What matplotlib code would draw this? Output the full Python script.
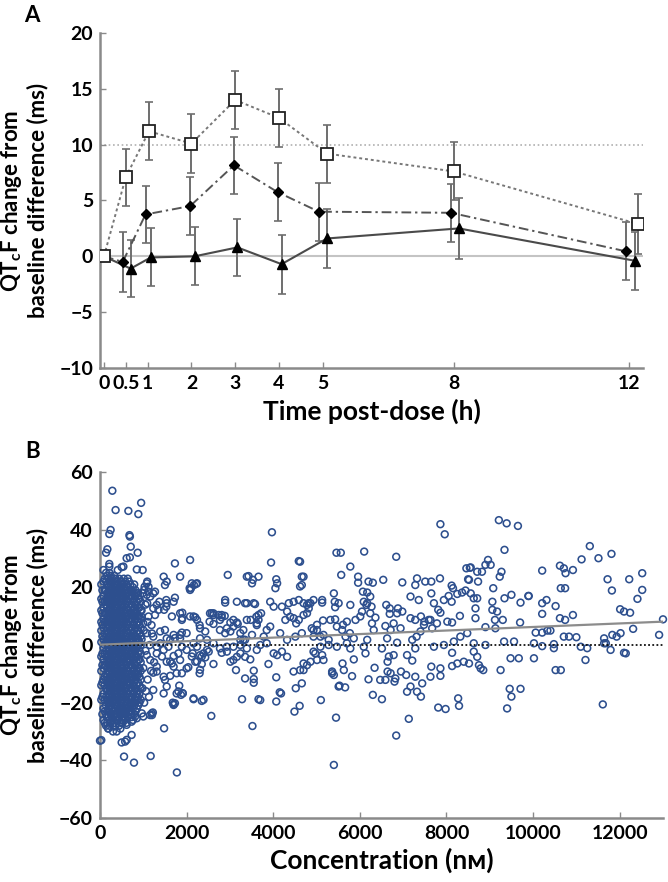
import matplotlib
matplotlib.use("Agg")
import matplotlib.pyplot as plt

plt.rcParams['font.family'] = ['Lato', 'DejaVu Sans']
plt.rcParams['font.weight'] = 'bold'
plt.rcParams['mathtext.fontset'] = 'custom'
plt.rcParams['mathtext.rm'] = 'Lato:bold'
plt.rcParams['mathtext.it'] = 'Lato:bold'
plt.rcParams['mathtext.bf'] = 'Lato:bold'

# ---------------- Panel A data ----------------
times = [0, 0.5, 1, 2, 3, 4, 5, 8, 12]
time_ticks = [0, 0.5, 1, 2, 3, 4, 5, 8, 12]
time_ticklabels = ['0', '0.5', '1', '2', '3', '4', '5', '8', '12']
a_yticks = [-10, -5, 0, 5, 10, 15, 20]

sq_mean = [0, 7.1, 11.2, 10.1, 14.0, 12.4, 9.2, 7.6, 2.9]
sq_err = [0, 2.55, 2.6, 2.65, 2.6, 2.6, 2.6, 2.6, 2.7]
dia_mean = [0, -0.5, 3.75, 4.5, 8.15, 5.75, 4.0, 3.9, 0.45]
dia_err = [0, 2.65, 2.55, 2.6, 2.55, 2.6, 2.6, 2.6, 2.6]
tri_mean = [0, -1.1, -0.1, 0.0, 0.8, -0.7, 1.6, 2.5, -0.4]
tri_err = [0, 2.55, 2.6, 2.6, 2.55, 2.65, 2.65, 2.7, 2.6]

# ---------------- Panel B data ----------------
b_xticks = [0, 2000, 4000, 6000, 8000, 10000, 12000]
b_yticks = [-60, -40, -20, 0, 20, 40, 60]
reg_intercept = 0.1      # ms
reg_slope = 0.000615     # ms per nM

cluster_conc = [30, 80, 140, 190, 250, 300, 360, 410, 470, 520, 580, 640, 700, 760, 820, 880, 940]
cluster_vals = [
    [-33, -19, -14, -9, -4, 1, 5, 8, 12, 16, 21],
    [-26, -22, -17, -12, -8, -5, -1, 2, 6, 9, 13, 17, 22, 26],
    [-28, -24, -21, -18, -15, -12, -10, -7, -4, -2, 1, 3, 6, 8, 11, 14, 16, 19, 22, 25, 32],
    [-29, -25, -22, -20, -17, -14, -12, -9, -6, -4, -1, 1, 4, 7, 9, 12, 15, 17, 20, 23],
    [-27, -24, -21, -19, -16, -13, -11, -8, -5, -3, 0, 2, 5, 8, 10, 13, 16, 18, 21, 24],
    [-30, -26, -23, -20, -18, -15, -12, -10, -7, -4, -2, 1, 3, 6, 9, 11, 14, 17, 19, 22],
    [-28, -25, -22, -19, -17, -14, -11, -9, -6, -3, -1, 2, 4, 7, 10, 12, 15, 18, 20, 23],
    [-26, -23, -21, -18, -15, -13, -10, -8, -5, -2, 0, 3, 5, 8, 11, 13, 16, 19, 21, 26],
    [-29, -24, -22, -20, -17, -14, -12, -9, -6, -4, -1, 1, 4, 7, 9, 12, 15, 17, 20, 22],
    [-27, -25, -22, -19, -16, -13, -11, -8, -5, -3, 0, 2, 5, 8, 10, 13, 16, 18, 21],
    [-26, -23, -21, -18, -15, -12, -10, -7, -4, -2, 1, 3, 6, 9, 11, 14, 17, 19, 22],
    [-25, -22, -20, -17, -14, -12, -9, -6, -4, -1, 1, 4, 7, 10, 12, 15, 18, 20, 23],
    [-24, -21, -19, -16, -13, -11, -8, -5, -3, 0, 2, 5, 8, 11, 13, 16, 19, 21],
    [-26, -22, -20, -17, -14, -11, -9, -6, -3, -1, 2, 4, 7, 10, 12, 15, 18, 20],
    [-23, -20, -18, -15, -12, -10, -7, -4, -2, 1, 3, 6, 9, 11, 14, 17, 19],
    [-21, -18, -16, -13, -10, -8, -5, -3, 0, 2, 5, 8, 10, 13, 16, 18],
    [-19, -15, -12, -9, -6, -3, 0, 3, 6, 9, 12, 15],
]

cluster2_conc = [55, 110, 165, 220, 275, 330, 385, 440, 495, 550, 610, 670, 730, 790, 850, 910]
cluster2_vals = [
    [-24, -18, -13, -7, -3, 3, 7, 11, 15, 19],
    [-27, -23, -19, -14, -11, -7, -3, 0, 4, 8, 11, 15, 19, 23],
    [-27, -23, -19, -16, -13, -11, -8, -5, -3, 0, 2, 5, 7, 10, 13, 15, 18, 21, 24],
    [-28, -26, -23, -20, -18, -15, -13, -10, -7, -5, -2, 0, 3, 6, 8, 11, 14, 16, 19, 22, 25],
    [-25, -22, -20, -17, -14, -12, -9, -6, -4, -1, 1, 4, 7, 9, 12, 15, 17, 20, 23],
    [-27, -24, -21, -19, -16, -13, -11, -8, -5, -3, 0, 2, 5, 8, 10, 13, 16, 18, 21, 24],
    [-26, -24, -20, -18, -15, -12, -10, -7, -4, -2, 1, 3, 6, 9, 11, 14, 17, 19, 22],
    [-28, -25, -22, -19, -16, -14, -11, -9, -6, -3, -1, 2, 4, 7, 10, 12, 15, 18, 20, 23],
    [-26, -23, -21, -18, -15, -12, -10, -7, -4, -2, 1, 3, 6, 9, 11, 14, 17, 19, 22],
    [-25, -23, -20, -17, -14, -12, -9, -6, -4, -1, 1, 4, 7, 9, 12, 15, 17, 20, 23],
    [-27, -24, -22, -19, -16, -13, -11, -8, -5, -3, 0, 2, 5, 8, 10, 13, 16, 18, 21],
    [-23, -21, -18, -15, -13, -10, -7, -5, -2, 0, 3, 6, 9, 11, 14, 17, 19, 22],
    [-25, -23, -20, -18, -15, -12, -10, -7, -4, -2, 1, 3, 6, 9, 11, 14, 17, 19],
    [-24, -21, -19, -16, -13, -10, -8, -5, -2, 0, 3, 5, 8, 11, 13, 16, 18, 21],
    [-22, -19, -17, -14, -11, -9, -6, -4, -1, 2, 4, 7, 10, 12, 15, 18],
    [-20, -17, -14, -11, -8, -5, -2, 1, 4, 7, 10, 13, 16],
]

cluster_fringe = [
    (960, 12.0), (1010, 5.0), (1050, -2.0), (1000, -8.0), (1100, -12.0), (1150, 0.0), (1200, 4.0),
    (1050, 14.0), (980, -15.0), (1130, -18.0), (1250, -6.0), (1020, -20.0), (960, 2.0), (1100, 8.0),
    (990, 18.0), (1180, -9.0), (1060, -16.0),
]

cluster_outliers = [
    (285, 53.5), (360, 46.8), (655, 46.5), (885, 45.4), (950, 49.3), (245, 39.9), (215, 38.5),
    (680, 38.1), (690, 37.6), (170, 33.2), (710, 34.1), (870, 32.0), (615, 30.1), (690, 30.4),
    (215, 28.1), (215, 27.2), (500, 27.0), (540, 27.2), (850, 26.2), (985, 26.0),
    (0, -33.2), (555, -38.7), (785, -40.8), (1170, -38.5), (1775, -44.2), (500, -33.8),
    (580, -33.5), (615, -32.9), (730, -31.2), (190, -28.9), (310, -28.3), (385, -30.0),
    (500, -27.1), (615, -27.7), (730, -26.6), (850, -25.4), (1000, -24.8), (1155, -24.3),
    (1195, -23.7), (155, -24.8), (345, -24.3), (500, -23.7), (810, -24.8), (965, -23.7),
]

pts_left_upper = [
    (3970, 39.1), (3950, 28.6), (4590, 29.1), (4070, 22.8), (4050, 19.7), (4090, 21.4), (4700, 23.7),
    (4660, 20.8), (2950, 24.3), (3430, 23.9), (3660, 23.7), (3510, 21.4), (2080, 29.5), (1730, 28.3),
    (1470, 23.7), (1500, 20.8), (1850, 23.7), (2120, 21.4), (2240, 21.4), (2070, 19.7), (2890, 15.6),
    (3160, 15.0), (3390, 14.5), (3580, 14.2), (3930, 15.0), (4010, 13.3), (4360, 14.5), (4470, 15.0),
    (4590, 15.6), (4700, 14.5), (4860, 14.5), (1080, 21.4), (1020, 19.1), (1080, 17.4), (1270, 18.5),
    (1370, 15.0), (1310, 13.9), (1530, 15.6), (1540, 14.5), (1700, 15.0), (1850, 11.0), (1890, 8.7),
    (2200, 9.6), (2240, 8.7), (2540, 11.0), (2620, 11.0), (2740, 10.4), (2810, 9.6), (2770, 8.7),
    (3010, 7.8), (3080, 6.4), (3180, 7.3), (3610, 9.8), (3660, 10.4), (3720, 11.0), (3620, 7.5),
    (3390, 8.7), (3480, 8.7), (3850, 5.2), (3930, 6.4), (3780, 2.9), (4200, 13.3), (4320, 11.6),
    (4390, 9.8), (4280, 8.7), (4470, 9.3), (4530, 7.5), (4590, 8.7), (4700, 10.4), (4820, 12.7),
    (4930, 5.2), (5010, 7.0), (5150, 8.5), (5430, 8.9), (4780, 13.9), (960, 9.8), (1000, 7.5),
    (1080, 4.1), (1230, 2.9), (1540, 2.3), (1700, 3.5), (1850, 2.3), (2160, 0.6), (2310, 2.3),
    (2470, 1.8), (2770, 5.2), (2930, 5.8), (3240, 4.1), (3310, 1.8), (4160, 4.1), (4320, 1.8),
    (4510, 2.9), (4660, 4.1), (4890, 5.8), (5090, 2.9), (5280, 1.8), (1310, -0.6), (1390, 0.6),
    (1890, -0.6), (2470, -1.7), (2930, -0.6), (3620, -1.7),
    (3390, 23.7), (3530, 22.6), (1540, 22.0), (2170, 20.8), (2220, 21.2), (2100, 19.7), (2080, 19.1),
    (1090, 22.0), (1120, 20.2), (1230, 17.9), (1530, 13.3), (1480, 12.2), (1730, 16.4), (1900, 11.2),
    (1900, 9.3), (1660, 9.9), (2080, 9.9), (2160, 9.9), (2580, 11.0), (2620, 10.4), (2530, 8.1),
    (2620, 7.3), (2810, 10.4), (2880, 10.1), (2890, 14.7), (3350, 14.5), (3550, 14.5), (3080, 8.7),
    (3160, 7.8), (3310, 5.2), (3510, 3.5), (3620, 6.9), (3660, 8.7), (2310, 5.8), (2300, 6.9),
    (2430, 4.7), (2000, 4.1), (1890, 4.3), (2890, 4.1), (3010, 4.7), (3240, 1.8), (3350, 1.8),
    (1620, 1.8), (1730, 2.4), (1850, 3.5), (1390, 4.7), (1500, 5.2), (1190, 6.9), (1120, 9.9),
    (1270, 10.4), (1350, 12.2), (1230, 12.7), (1030, 20.2), (1120, 18.5), (1160, 16.8), (1090, 14.5),
]

pts_left_lower = [
    (1480, -28.9), (3520, -28.1), (2570, -24.6), (1200, -24.3), (1220, -23.4), (1700, -20.5),
    (1680, -20.0), (2160, -18.8), (2350, -19.4), (1470, -16.8), (1830, -14.1), (1910, -16.8),
    (1770, -16.8), (1230, -15.6), (3660, -18.8), (3700, -19.1), (4070, -19.6), (4150, -16.4),
    (4180, -16.8), (4490, -23.1), (4610, -21.1), (4520, -15.0), (3550, -13.1), (3550, -11.8),
    (3550, -8.9), (3350, -11.6), (3140, -8.7), (2300, -9.8), (2040, -7.7), (1850, -5.2), (1700, -3.8),
    (1810, -2.9), (1660, -6.4), (1540, -5.8), (1470, -11.0), (1310, -7.5), (1230, -9.6), (1310, -9.2),
    (1620, -10.7), (1160, -5.2), (1080, -3.5), (2200, -5.8), (2350, -6.6), (2430, -4.3), (2310, -3.5),
    (2140, -2.9), (2620, -6.6), (2810, -2.7), (2930, -2.3), (3080, -5.2), (3010, -5.8), (3160, -4.1),
    (3240, -2.9), (3350, -4.1), (3470, -5.0), (3080, -0.6), (3240, 0.0), (3390, -1.2), (3890, -6.6),
    (4070, -11.2), (4010, -2.9), (4090, -3.5), (4200, -2.3), (4320, -4.1), (4470, -9.2), (4620, -8.7),
    (4700, -6.4), (5010, -5.2), (4930, -2.3), (1470, -1.7), (1580, -0.6), (2000, -1.7), (2240, -0.6),
    (2510, -2.3), (2620, 0.6), (2770, -1.2), (3700, 0.0), (3850, 0.6),
    (1310, -2.9), (1430, -4.0), (1620, -5.7), (1700, -7.5), (1770, -9.8), (1890, -9.8), (2000, -8.1),
    (2120, -4.0), (2240, -5.7), (2310, -8.6), (2350, -4.0), (2390, -2.9), (1500, -12.1), (1540, -14.4),
    (1810, -16.1), (1870, -17.3), (1910, -16.7), (2160, -18.5), (2390, -19.0), (3280, -18.8),
    (1700, -20.8), (1730, -20.2),
]

pts_right_upper = [
    (7860, 41.9), (7960, 38.4), (9210, 43.3), (9390, 42.2), (9650, 41.3), (9340, 33.0), (11310, 34.3),
    (11810, 31.6), (11510, 30.1), (11120, 29.7), (5460, 32.0), (5560, 32.0), (6100, 32.4), (6840, 30.6),
    (5780, 27.2), (5570, 24.3), (5960, 23.7), (5960, 21.6), (6200, 22.0), (6300, 21.6), (6540, 22.6),
    (6980, 21.7), (7320, 23.1), (7280, 20.8), (7510, 22.0), (7650, 22.0), (7850, 23.1), (8120, 20.6),
    (8150, 19.7), (8520, 22.6), (8560, 26.9), (8710, 25.4), (8820, 25.4), (8900, 27.8), (9020, 27.8),
    (8960, 29.5), (9270, 25.4), (9230, 23.7), (8730, 22.0), (9080, 19.7), (10210, 25.8), (10620, 27.5),
    (10710, 26.6), (10750, 24.9), (10920, 26.0), (11720, 22.8), (12220, 22.8), (12520, 24.9),
    (12520, 19.1), (11820, 18.9), (10640, 19.7), (10740, 19.7), (12410, 16.0), (9900, 17.0),
    (10210, 14.5), (10310, 15.6), (10520, 13.5), (10210, 10.8), (10620, 9.3), (10740, 8.7),
    (10920, 10.4), (12010, 12.4), (12100, 11.6), (12240, 11.2), (12310, 5.6), (12910, 3.5),
    (13000, 8.9), (11640, 2.3), (11830, 3.5), (11930, 2.9), (12020, 4.1), (10060, 4.3), (10210, 4.3),
    (10330, 5.0), (10400, 5.0), (10710, 2.9), (10830, 2.9), (11000, 2.7), (9700, 7.8), (9340, 16.2),
    (9500, 17.4), (9710, 14.7), (9890, 17.0), (9060, 15.0), (9060, 12.2), (9170, 11.6), (9300, 8.7),
    (9130, 5.8), (8460, 26.6), (8540, 26.8), (8500, 22.8), (8250, 17.7), (8360, 18.2), (8440, 18.9),
    (8560, 17.9), (8630, 16.2), (8710, 16.2), (8670, 12.7), (8670, 9.3), (8900, 6.2), (9120, 8.7),
    (8120, 15.0), (8050, 17.0), (8310, 10.1), (8130, 7.8), (7940, 15.6), (7650, 17.9), (7710, 14.5),
    (7810, 12.2), (7860, 11.2), (7360, 15.6), (7170, 16.8), (7410, 9.9), (7490, 8.1), (6880, 12.7),
    (6980, 11.6), (6860, 11.0), (6690, 10.8), (6780, 7.5), (6590, 6.6), (6940, 5.8), (6270, 13.3),
    (6170, 14.5), (6240, 11.0), (6360, 9.5), (6280, 7.5), (6070, 18.5), (6170, 18.2), (6240, 16.8),
    (6090, 15.0), (6050, 11.6), (6150, 13.9), (6010, 9.9), (5780, 13.9), (5900, 8.7), (5700, 8.1),
    (5610, 7.0), (5770, 4.1), (5860, 2.3), (6610, 13.9), (6690, 12.7), (7170, 9.3), (7280, 8.7),
    (7480, 7.0), (7590, 8.7), (5400, 17.9), (5420, 15.0), (5510, 14.5), (5130, 15.6), (5130, 14.7),
    (5430, 13.1), (4930, 15.6), (4780, 11.0), (4820, 14.5), (4620, 20.3), (4660, 23.7), (4620, 28.9),
    (5320, 8.7), (5470, 6.4), (5590, 5.2), (5670, 2.9), (5010, 5.2), (5160, 3.5), (4930, 2.9),
    (8020, 8.1), (8170, 1.2), (8320, 2.9), (8480, 4.1), (7780, 7.5), (7630, 8.7), (7670, 5.8),
    (7310, 2.9), (7400, 4.7), (7210, 1.8), (6710, 5.2), (6630, 2.3), (6860, 0.8), (6320, 5.2),
    (6170, 1.8), (9560, 1.2), (10020, 0.6), (10480, -1.1), (11250, -1.1), (11640, 0.6), (12140, -2.9),
]

pts_right_lower = [
    (5400, -41.6), (6840, -31.4), (5450, -25.2), (7130, -25.6), (5100, -19.1), (6510, -18.8),
    (6300, -17.3), (7810, -21.7), (7980, -22.2), (8270, -18.5), (8290, -21.1), (9400, -22.0),
    (9460, -15.2), (9710, -15.2), (9500, -17.9), (11610, -20.6), (4660, -13.3), (5530, -14.1),
    (5660, -14.7), (5600, -6.4), (5630, -8.7), (5360, -9.2), (5400, -10.4), (5820, -10.8),
    (5860, -5.0), (4970, -2.9), (5130, -3.5), (5160, -5.2), (4780, -7.0), (4700, -8.7), (4860, -5.8),
    (6200, -11.9), (6340, -7.9), (6470, -12.1), (6590, -12.1), (6640, -9.2), (6710, -9.8),
    (6820, -11.6), (6800, -12.7), (6950, -9.2), (7070, -10.4), (7090, -16.2), (7170, -14.4),
    (7280, -11.0), (7440, -13.3), (7410, -17.9), (7320, -16.2), (7630, -11.0), (7650, -7.5),
    (7860, -8.1), (7860, -10.7), (8130, -7.3), (8250, -6.4), (8400, -5.8), (8520, -6.4), (8630, -2.3),
    (8710, -4.1), (8750, -7.0), (8790, -8.1), (8850, -8.7), (8130, -2.7), (9250, -8.7), (9480, -4.6),
    (9670, -4.6), (10020, -4.6), (10520, -8.7), (10640, -8.7), (11210, -5.2), (12100, -2.7),
    (11790, -1.7), (11100, -0.6), (10210, -0.4), (10480, 0.3), (5700, 0.6), (6090, -0.6),
    (6130, -2.9), (6510, -1.2), (6670, -4.0), (6640, -5.8), (6780, -3.5), (7090, -3.5), (7210, -5.4),
    (7280, -1.2), (7710, -0.6), (7940, 0.0), (8630, 0.6), (8900, 0.0), (9330, 1.2), (11680, 0.6),
    (5090, -0.6), (5280, 0.0), (5780, -1.2), (5470, -0.6), (5360, -9.8), (5510, -14.4),
]

# ---------------- Figure ----------------
W, H = 668, 882
fig = plt.figure(figsize=(W / 100, H / 100), dpi=100)

spine_col = '#8a8a8a'
tick_fs = 14
ylabel_fs = 16
xlabel_fs = 19


def style_axes(ax):
    for s in ('top', 'right'):
        ax.spines[s].set_visible(False)
    for s in ('left', 'bottom'):
        ax.spines[s].set_color(spine_col)
        ax.spines[s].set_linewidth(1.8)
    ax.tick_params(direction='in', length=4, width=1, color=spine_col,
                   labelsize=tick_fs, pad=5)
    for lab in ax.get_xticklabels() + ax.get_yticklabels():
        lab.set_fontweight('bold')


ylabel_text = 'QT$_{\\mathrm{c}}$F change from\nbaseline difference (ms)'

# Panel A
axA = fig.add_axes([100 / W, 1 - 368 / H, 543 / W, 335 / H])
axA.set_xlim(-0.09, 12.32)
axA.set_ylim(-10, 20)
axA.axhline(0, color='#c4c4c4', lw=1.5, zorder=1)
axA.axhline(10, color='#b0b0b0', lw=1.2, ls=(0, (1, 1.6)), zorder=1)

sq_dodge = [0, 0, 0.03, 0, 0, 0, 0.1, 0, 0.2]
dia_dodge = [0, -0.07, -0.05, -0.03, -0.03, -0.03, -0.09, -0.07, -0.07]
tri_dodge = [0, 0.11, 0.07, 0.07, 0.05, 0.06, 0.1, 0.11, 0.14]

tri_x = [t + d for t, d in zip(times, tri_dodge)]
dia_x = [t + d for t, d in zip(times, dia_dodge)]
sq_x = [t + d for t, d in zip(times, sq_dodge)]

err_kw = dict(ecolor='#6e6e6e', elinewidth=1.4, capsize=3, capthick=1.2)

axA.errorbar(tri_x, tri_mean, yerr=tri_err, fmt='none', zorder=2, **err_kw)
axA.errorbar(dia_x, dia_mean, yerr=dia_err, fmt='none', zorder=2, **err_kw)
axA.errorbar(sq_x, sq_mean, yerr=sq_err, fmt='none', zorder=2, **err_kw)

axA.plot(tri_x, tri_mean, color='#4a4a4a', lw=1.5, zorder=3)
axA.plot(tri_x[1:], tri_mean[1:], ls='none', marker='^', ms=7, mfc='black', mec='black', zorder=6)
axA.plot(dia_x, dia_mean, color='#555555', lw=1.4, ls=(0, (5, 2, 1.2, 2)), zorder=3)
axA.plot(dia_x[1:], dia_mean[1:], ls='none', marker='D', ms=5.5, mfc='black', mec='black', zorder=6)
axA.plot(sq_x, sq_mean, color='#777777', lw=1.4, ls=(0, (1.5, 1.5)), zorder=3)
axA.plot(sq_x, sq_mean, ls='none', marker='s', ms=9, mfc='white', mec='#222222', mew=1.3, zorder=7)

axA.set_xticks(time_ticks)
axA.set_xticklabels(time_ticklabels)
axA.set_yticks(a_yticks)
axA.set_yticklabels([str(v).replace('-', '\u2212') for v in a_yticks])
style_axes(axA)
axA.set_xlabel('Time post-dose (h)', fontsize=xlabel_fs, fontweight='bold', labelpad=5)
axA.set_ylabel(ylabel_text, fontsize=ylabel_fs, fontweight='bold', labelpad=8, linespacing=1.15)
fig.text(32 / W, 1 - 15 / H, 'A', fontsize=16, fontweight='bold', ha='center', va='center')

# Panel B
axB = fig.add_axes([100 / W, 1 - 818 / H, 563 / W, 346 / H])
axB.set_xlim(0, 13000)
axB.set_ylim(-60, 60)

bx, by = [], []
for conc_list, val_lists in ((cluster_conc, cluster_vals), (cluster2_conc, cluster2_vals)):
    for c, vals in zip(conc_list, val_lists):
        for v in vals:
            bx.append(c)
            by.append(v)
for group in (cluster_fringe, cluster_outliers, pts_left_upper, pts_left_lower,
              pts_right_upper, pts_right_lower):
    for c, v in group:
        bx.append(c)
        by.append(v)

axB.scatter(bx, by, s=24, facecolors='none', edgecolors='#2d4f8e', linewidths=1.15, zorder=3,
            clip_on=False)
axB.axhline(0, color='#111111', lw=1.3, ls=(0, (1, 1.3)), zorder=4)
reg_x = [0, 13000]
axB.plot(reg_x, [reg_intercept + reg_slope * x for x in reg_x], color='#8c8c8c', lw=1.6, zorder=4)

axB.set_xticks(b_xticks)
axB.set_xticklabels([str(v) for v in b_xticks])
axB.set_yticks(b_yticks)
axB.set_yticklabels([str(v).replace('-', '\u2212') for v in b_yticks])
style_axes(axB)
axB.set_xlabel('Concentration (n\u1d0d)', fontsize=xlabel_fs, fontweight='bold', labelpad=4)
axB.set_ylabel(ylabel_text, fontsize=ylabel_fs, fontweight='bold', labelpad=8, linespacing=1.15)
fig.text(33 / W, 1 - 451 / H, 'B', fontsize=16, fontweight='bold', ha='center', va='center')

fig.savefig('out.png', dpi=100)
